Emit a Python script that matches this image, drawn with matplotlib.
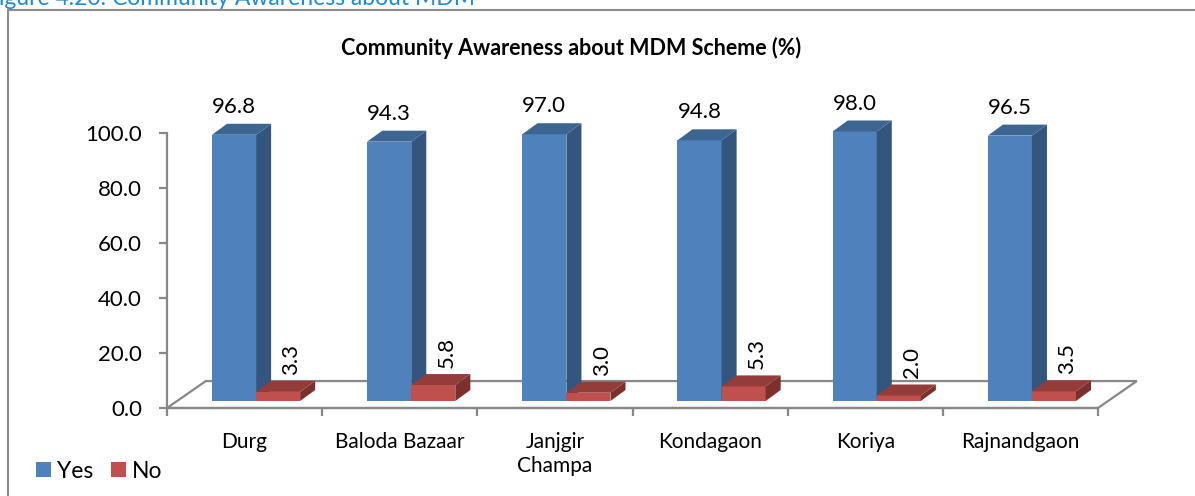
import matplotlib
matplotlib.use("Agg")
import matplotlib.pyplot as plt
from matplotlib.patches import Polygon, Patch, Rectangle

plt.rcParams['font.family'] = ['Lato', 'DejaVu Sans']

# data
districts = ["Durg", "Baloda Bazaar", "Janjgir\nChampa", "Kondagaon", "Koriya", "Rajnandgaon"]
yes_vals = [96.8, 94.3, 97.0, 94.8, 98.0, 96.5]
no_vals = [3.3, 5.8, 3.0, 5.3, 2.0, 3.5]

# colours (Excel 2007 style)
blue_front, blue_top, blue_side = "#4F81BD", "#3D6592", "#34567E"
red_front, red_top, red_side = "#C0504D", "#933C3A", "#7B302E"
grid_grey = "#878787"

W, H = 1195, 496
fig = plt.figure(figsize=(W / 100, H / 100), dpi=100)
ax = fig.add_axes([167 / W, 1 - 408 / H, (1098 - 167) / W, (408 - 133) / H])
ax.set_xlim(-0.5, 5.5)
ax.set_ylim(0, 100)

# 3d look parameters (data units)
floor_dx, floor_dy = 0.25, 9.8     # depth of floor
base = 2.55                        # bars stand a bit inside floor
bar_dx, bar_dy = 0.097, 4.0        # depth of each bar
bw = 0.284
off_blue = -0.21

# floor
n = len(districts)
floor = Polygon([(-0.5, 0), (n - 0.5, 0), (n - 0.5 + floor_dx, floor_dy), (-0.5 + floor_dx, floor_dy)],
                closed=True, facecolor="white", edgecolor=grid_grey, lw=1.6, clip_on=False, zorder=1)
ax.add_patch(floor)


def draw_bar3d(x0, h, front, top, side):
    x1 = x0 + bw
    b = base
    ax.bar(x0, h, width=bw, bottom=b, align='edge', color=front, edgecolor='none',
           clip_on=False, zorder=3)
    ax.add_patch(Polygon([(x1, b), (x1 + bar_dx, b + bar_dy), (x1 + bar_dx, b + h + bar_dy), (x1, b + h)],
                         closed=True, facecolor=side, edgecolor='none', clip_on=False, zorder=3))
    ax.add_patch(Polygon([(x0, b + h), (x1, b + h), (x1 + bar_dx, b + h + bar_dy), (x0 + bar_dx, b + h + bar_dy)],
                         closed=True, facecolor=top, edgecolor='none', clip_on=False, zorder=3))


for i in range(n):
    xb = i + off_blue
    xr = xb + bw
    draw_bar3d(xb, yes_vals[i], blue_front, blue_top, blue_side)
    draw_bar3d(xr, no_vals[i], red_front, red_top, red_side)
    ax.text(xb + bw / 2, yes_vals[i] + 10.5, f"{yes_vals[i]:.1f}", ha='center', va='baseline',
            fontsize=16, color='black', zorder=5)
    ax.text(xr + bw / 2 + 0.085, no_vals[i] + 8.8, f"{no_vals[i]:.1f}", ha='center', va='bottom',
            rotation=90, fontsize=16, color='black', zorder=5)

# axes styling
for s in ['top', 'right']:
    ax.spines[s].set_visible(False)
for s in ['left', 'bottom']:
    ax.spines[s].set_color(grid_grey)
    ax.spines[s].set_linewidth(1.6)
    ax.spines[s].set_zorder(2)

ax.set_yticks([0, 20, 40, 60, 80, 100])
ax.set_yticklabels([f"{v:.1f}" for v in [0, 20, 40, 60, 80, 100]])
ax.tick_params(axis='y', direction='out', length=6, width=1.6, color=grid_grey, pad=12, labelsize=16)

ax.set_xticks(range(n))
ax.set_xticklabels(districts, fontsize=15, linespacing=1.3, va='top')
ax.set_xticks([i - 0.5 for i in range(n + 1)], minor=True)
ax.tick_params(axis='x', which='major', length=0, pad=17)
ax.tick_params(axis='x', which='minor', direction='out', length=6, width=1.6, color=grid_grey)
ax.patch.set_visible(False)

# title and caption
fig.text(571 / W, 1 - 55 / H, "Community Awareness about MDM Scheme (%)", ha='center', va='baseline',
         fontsize=15.5, fontweight='bold')
fig.text(-14 / W, 1 - 5 / H, "Figure 4.20: Community Awareness about MDM", ha='left', va='baseline',
         fontsize=16.5, color="#1B8BD3")

# chart border
fig.add_artist(Rectangle((8 / W, -0.1), 1.2, 1 - 10 / H + 0.1, transform=fig.transFigure,
                         facecolor='none', edgecolor="#8C8C8C", lw=1.5))

# legend
handles = [Patch(facecolor=blue_front, label="Yes"), Patch(facecolor=red_front, label="No")]
fig.legend(handles=handles, loc='center left', bbox_to_anchor=(36 / W, 1 - 471 / H), ncol=2,
           frameon=False, fontsize=16.5, handlelength=0.65, handleheight=0.65, handletextpad=0.25,
           columnspacing=0.8, borderpad=0, borderaxespad=0)

fig.savefig("out.png", dpi=100)
